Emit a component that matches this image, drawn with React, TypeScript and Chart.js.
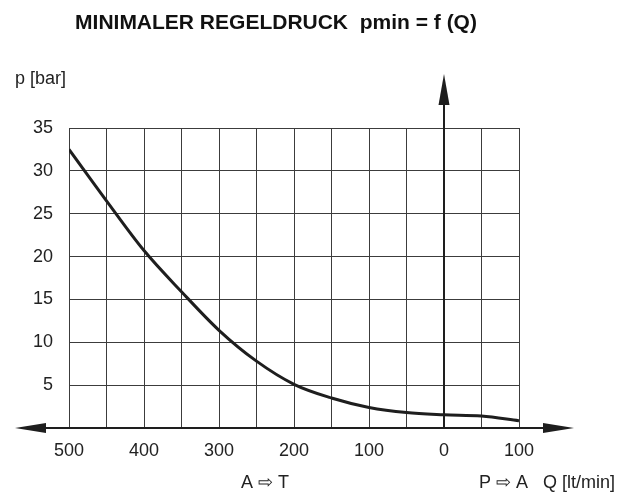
import React, { useEffect, useRef } from "react";
import { Chart, registerables } from "chart.js";

Chart.register(...registerables);

// Flow Q [lt/min]: negative = A ⇨ T (shown as positive on the left), positive = P ⇨ A
const flowQ = [-500, -450, -400, -350, -300, -250, -200, -150, -100, -50, 0, 50, 100];
// Minimal control pressure p [bar]
const pressure = [32.5, 26.5, 20.7, 15.9, 11.4, 7.8, 5.1, 3.5, 2.4, 1.8, 1.55, 1.4, 0.85];

const titleText = "MINIMALER REGELDRUCK  pmin = f (Q)";
const yAxisTitle = "p [bar]";
const leftDirLabel = "A ⇨ T";
const rightDirLabel = "P ⇨ A   Q [lt/min]";

const xMin = -500;
const xMax = 100;
const xStep = 50;
const yMin = 0;
const yMax = 35;
const yStep = 5;

const FONT = "'Liberation Sans', Arial, Helvetica, sans-serif";
const INK = "#1e1e1e";

const decorPlugin = {
  id: "decor",
  afterDraw(chart: any) {
    const ctx = chart.ctx as CanvasRenderingContext2D;
    const xs = chart.scales.x;
    const ys = chart.scales.y;
    const area = chart.chartArea;
    const x0 = Math.round(xs.getPixelForValue(0));
    const y0 = Math.round(ys.getPixelForValue(0));
    ctx.save();
    ctx.strokeStyle = INK;
    ctx.fillStyle = INK;
    ctx.lineWidth = 2;

    // horizontal axis
    const leftTip = area.left - 54;
    const rightTip = area.right + 55;
    ctx.beginPath();
    ctx.moveTo(leftTip + 20, y0);
    ctx.lineTo(rightTip - 20, y0);
    ctx.stroke();
    ctx.beginPath();
    ctx.moveTo(leftTip, y0);
    ctx.lineTo(leftTip + 31, y0 - 5);
    ctx.lineTo(leftTip + 31, y0 + 5);
    ctx.closePath();
    ctx.fill();
    ctx.beginPath();
    ctx.moveTo(rightTip, y0);
    ctx.lineTo(rightTip - 31, y0 - 5);
    ctx.lineTo(rightTip - 31, y0 + 5);
    ctx.closePath();
    ctx.fill();

    // vertical axis
    const topTip = area.top - 54;
    ctx.beginPath();
    ctx.moveTo(x0, y0);
    ctx.lineTo(x0, topTip + 20);
    ctx.stroke();
    ctx.beginPath();
    ctx.moveTo(x0, topTip);
    ctx.lineTo(x0 - 5.5, topTip + 31);
    ctx.lineTo(x0 + 5.5, topTip + 31);
    ctx.closePath();
    ctx.fill();

    // texts
    ctx.fillStyle = "#111";
    ctx.font = `bold 21px ${FONT}`;
    ctx.textAlign = "center";
    ctx.textBaseline = "alphabetic";
    ctx.fillText(titleText, 276, 29);

    ctx.fillStyle = "#222";
    ctx.font = `18px ${FONT}`;
    ctx.textAlign = "left";
    ctx.fillText(yAxisTitle, 15, 84);

    ctx.textAlign = "center";
    ctx.fillText(leftDirLabel, 265, 488);
    ctx.textAlign = "right";
    ctx.fillText(rightDirLabel, 615, 488);
    ctx.restore();
  },
};

export default function App() {
  const ref = useRef<HTMLCanvasElement | null>(null);
  useEffect(() => {
    if (!ref.current) return;
    const chart = new Chart(ref.current, {
      type: "line",
      data: {
        datasets: [
          {
            data: flowQ.map((q, i) => ({ x: q, y: pressure[i] })),
            borderColor: INK,
            borderWidth: 3,
            pointRadius: 0,
            fill: false,
            cubicInterpolationMode: "monotone",
          },
        ],
      },
      options: {
        responsive: false,
        animation: false,
        devicePixelRatio: 1,
        layout: { padding: { top: 128, right: 115, left: 0, bottom: 0 } },
        plugins: {
          legend: { display: false },
          tooltip: { enabled: false },
          title: { display: false },
        },
        scales: {
          x: {
            type: "linear",
            min: xMin,
            max: xMax,
            border: { display: false },
            grid: { color: "#3c3c3c", lineWidth: 1, drawTicks: false },
            ticks: {
              stepSize: xStep,
              autoSkip: false,
              maxRotation: 0,
              padding: 12,
              color: "#222",
              font: { family: FONT, size: 18 },
              callback: (v: any) => (Number(v) % 100 === 0 ? String(Math.abs(Number(v))) : ""),
            },
            afterFit: (s: any) => {
              s.height = 66;
            },
          },
          y: {
            min: yMin,
            max: yMax,
            border: { display: false },
            grid: { color: "#3c3c3c", lineWidth: 1, drawTicks: false },
            ticks: {
              stepSize: yStep,
              padding: 16,
              color: "#222",
              font: { family: FONT, size: 18 },
              callback: (v: any) => (Number(v) === 0 ? "" : String(v)),
            },
            afterFit: (s: any) => {
              s.width = 69;
            },
          },
        },
      },
      plugins: [decorPlugin],
    });
    return () => chart.destroy();
  }, []);
  return (
    <div style={{ position: "absolute", left: 0, top: 0, width: 634, height: 494, background: "#fff" }}>
      <canvas ref={ref} width={634} height={494} style={{ display: "block" }} />
    </div>
  );
}
